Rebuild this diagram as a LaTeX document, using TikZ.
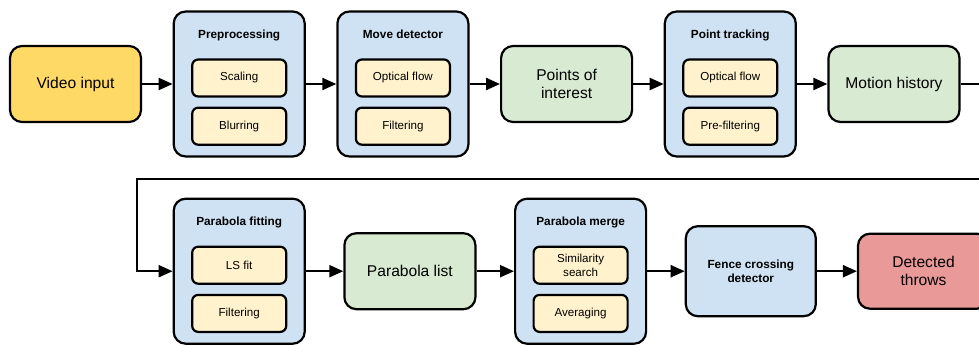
\documentclass[tikz,border=0pt]{standalone}
\usepackage{fontspec}
\setmainfont{Liberation Sans}
\usepackage{xcolor}
\usepackage{tikz}
\usetikzlibrary{arrows.meta,positioning}
\definecolor{srcyellow}{HTML}{FFD966}
\definecolor{stageblue}{HTML}{CFE2F3}
\definecolor{subyellow}{HTML}{FFF2CC}
\definecolor{datagreen}{HTML}{D9EAD3}
\definecolor{resred}{HTML}{EA9999}
\tikzset{
  box/.style={rectangle, draw, line width=2.2pt, align=center},
  src/.style={box, rounded corners=12pt, fill=srcyellow, minimum width=131pt, minimum height=76pt, font=\fontsize{15.6}{18}\selectfont},
  data/.style={box, rounded corners=12pt, fill=datagreen, minimum width=131pt, minimum height=76pt, font=\fontsize{15.6}{18}\selectfont},
  res/.style={box, rounded corners=12pt, fill=resred, minimum width=131pt, minimum height=75pt, font=\fontsize{15.6}{18}\selectfont},
  stage/.style={box, rounded corners=12pt, fill=stageblue, minimum width=131pt, minimum height=145pt},
  stagetitle/.style={inner sep=0pt, font=\bfseries\fontsize{11.8}{14}\selectfont},
  check/.style={box, rounded corners=12pt, fill=stageblue, minimum width=130pt, minimum height=90pt, font=\bfseries\fontsize{11.8}{14.7}\selectfont},
  sub/.style={box, rounded corners=6pt, fill=subyellow, minimum width=94pt, minimum height=37pt, font=\fontsize{11.6}{13.7}\selectfont},
  arrow/.style={-{Triangle[length=14pt,width=12pt]}, line width=2.2pt}
}

\begin{document}
\begin{tikzpicture}[x=1pt, y=1pt, node distance=30.5pt]
  \useasboundingbox (0,0) rectangle (979,-345);
  \clip (0,0) rectangle (979,-345);
  % top row
  \node[src] (vid) at (75.5,-84) {Video input};
  \node[stage, right=of vid] (pre) {};
  \node[stagetitle, below=19pt of pre.north] (pretitle) {Preprocessing};
  \node[sub, below=48pt of pre.north] (scal) {Scaling};
  \node[sub, below=9pt of scal] (blur) {Blurring};
  \node[stage, right=of pre] (mdet) {};
  \node[stagetitle, below=19pt of mdet.north] (mdettitle) {Move detector};
  \node[sub, below=48pt of mdet.north] (mflow) {Optical flow};
  \node[sub, below=9pt of mflow] (mfilt) {Filtering};
  \node[data, right=of mdet] (poi) {Points of\\interest};
  \node[stage, right=of poi] (ptrk) {};
  \node[stagetitle, below=19pt of ptrk.north] (ptrktitle) {Point tracking};
  \node[sub, below=48pt of ptrk.north] (pflow) {Optical flow};
  \node[sub, below=9pt of pflow] (pfilt) {Pre-filtering};
  \node[data, right=of ptrk] (mhist) {Motion history};
  % bottom row
  \node[stage, below=40pt of pre] (pfit) {};
  \node[stagetitle, below=19pt of pfit.north] (pfittitle) {Parabola fitting};
  \node[sub, below=48pt of pfit.north] (lsfit) {LS fit};
  \node[sub, below=9pt of lsfit] (ffilt) {Filtering};
  \node[data, right=37.5pt of pfit] (plist) {Parabola list};
  \node[stage, right=37.5pt of plist] (pmrg) {};
  \node[stagetitle, below=19pt of pmrg.north] (pmrgtitle) {Parabola merge};
  \node[sub, below=48pt of pmrg.north] (simi) {Similarity\\search};
  \node[sub, below=9pt of simi] (avg) {Averaging};
  \node[check, right=37.5pt of pmrg] (fence) {Fence crossing\\detector};
  \node[res, right=40pt of fence] (throws) {Detected\\throws};
  % connectors
  \draw[arrow] (vid) -- (pre);
  \draw[arrow] (pre) -- (mdet);
  \draw[arrow] (mdet) -- (poi);
  \draw[arrow] (poi) -- (ptrk);
  \draw[arrow] (ptrk) -- (mhist);
  \coordinate (turnR) at (1000,-179);
  \coordinate (turnL) at (137,-179);
  \draw[arrow] (mhist.east) -| (turnR) -- (turnL) |- (pfit.west);
  \draw[arrow] (pfit) -- (plist);
  \draw[arrow] (plist) -- (pmrg);
  \draw[arrow] (pmrg) -- (fence);
  \draw[arrow] (fence) -- (throws);
\end{tikzpicture}
\end{document}
